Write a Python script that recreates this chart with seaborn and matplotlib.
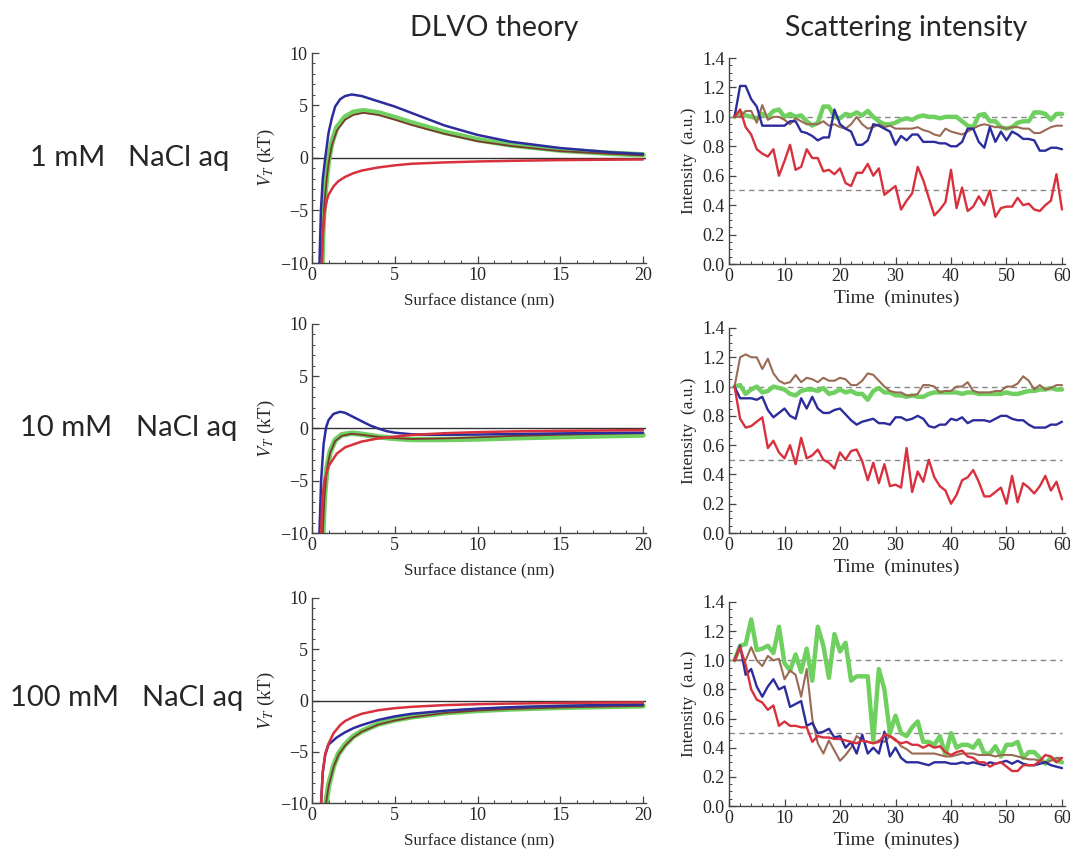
import numpy as np
import pandas as pd
import matplotlib
matplotlib.use('Agg')
import matplotlib.pyplot as plt
import seaborn as sns
from matplotlib.ticker import MultipleLocator

# ---- DLVO theory curves (surface distance in nm, V_T in kT) ----
# 1 mM
d1_blue_x = [0.45, 0.54, 0.65, 0.8, 1.0, 1.2, 1.4, 1.7, 2.0, 2.4, 3.0, 4.0, 5.0, 6.0, 8.0, 10.0, 12.0, 15.0, 18.0, 20.0]
d1_blue = [-10, -5, -2, 0, 2.4, 3.8, 4.9, 5.6, 5.9, 6.05, 5.9, 5.4, 4.9, 4.3, 3.1, 2.2, 1.55, 0.95, 0.55, 0.38]
d1_green_x = [0.6, 0.65, 0.75, 0.9, 1.0, 1.2, 1.5, 2.0, 2.5, 3.1, 4.0, 5.0, 6.0, 8.0, 10.0, 12.0, 15.0, 18.0, 20.0]
d1_green = [-10, -7, -4, -1.5, -0.2, 1.5, 2.9, 3.9, 4.35, 4.5, 4.3, 3.85, 3.35, 2.45, 1.75, 1.25, 0.75, 0.45, 0.3]
d1_brown_x = [0.6, 0.65, 0.75, 0.9, 1.0, 1.2, 1.5, 2.0, 2.5, 3.1, 4.0, 5.0, 6.0, 8.0, 10.0, 12.0, 15.0, 18.0, 20.0]
d1_brown = [-10, -7.3, -4.3, -1.8, -0.5, 1.2, 2.6, 3.65, 4.1, 4.3, 4.1, 3.65, 3.15, 2.3, 1.6, 1.15, 0.65, 0.4, 0.25]
d1_red_x = [0.6, 0.65, 0.75, 0.9, 1.0, 1.3, 1.6, 2.0, 2.5, 3.0, 4.0, 5.0, 6.0, 8.0, 10.0, 12.0, 15.0, 18.0, 20.0]
d1_red = [-10, -7.5, -5.3, -4.0, -3.5, -2.7, -2.2, -1.8, -1.45, -1.2, -0.9, -0.7, -0.55, -0.42, -0.33, -0.27, -0.2, -0.16, -0.14]

# 10 mM
d2_blue_x = [0.45, 0.55, 0.7, 0.85, 1.0, 1.3, 1.7, 2.0, 2.5, 3.0, 3.5, 4.0, 4.5, 5.0, 6.0, 7.0, 8.0, 10.0, 12.0, 15.0, 18.0, 20.0]
d2_blue = [-10, -5, -1.5, 0.1, 0.8, 1.4, 1.6, 1.5, 1.1, 0.7, 0.3, 0.0, -0.25, -0.4, -0.55, -0.6, -0.6, -0.58, -0.53, -0.47, -0.42, -0.4]
d2_green_x = [0.65, 0.75, 0.9, 1.1, 1.4, 1.8, 2.4, 3.0, 4.0, 5.0, 6.0, 8.0, 10.0, 12.0, 15.0, 18.0, 20.0]
d2_green = [-10, -6.5, -3.8, -2.2, -1.1, -0.6, -0.45, -0.55, -0.8, -0.95, -1.05, -1.05, -1.0, -0.9, -0.78, -0.68, -0.62]
d2_brown_x = [0.65, 0.75, 0.9, 1.1, 1.4, 1.8, 2.4, 3.0, 4.0, 5.0, 6.0, 8.0, 10.0, 12.0, 15.0, 18.0, 20.0]
d2_brown = [-10, -6.6, -3.9, -2.3, -1.2, -0.7, -0.5, -0.6, -0.8, -0.92, -1.0, -0.95, -0.85, -0.72, -0.6, -0.5, -0.45]
d2_red_x = [0.55, 0.62, 0.75, 1.0, 1.5, 2.0, 3.0, 4.0, 5.0, 6.0, 8.0, 10.0, 12.0, 15.0, 18.0, 20.0]
d2_red = [-10, -7, -5.0, -3.6, -2.4, -1.8, -1.25, -0.95, -0.78, -0.62, -0.45, -0.35, -0.28, -0.22, -0.18, -0.15]

# 100 mM
d3_blue_x = [0.55, 0.65, 0.8, 1.0, 1.5, 2.0, 2.5, 3.0, 4.0, 5.0, 6.0, 8.0, 10.0, 12.0, 15.0, 18.0, 20.0]
d3_blue = [-10, -7, -5.3, -4.3, -3.6, -3.1, -2.7, -2.4, -1.9, -1.55, -1.3, -1.0, -0.8, -0.65, -0.52, -0.43, -0.4]
d3_green_x = [0.85, 1.0, 1.3, 1.6, 2.0, 2.5, 3.0, 4.0, 5.0, 6.0, 8.0, 10.0, 12.0, 15.0, 18.0, 20.0]
d3_green = [-10, -8.3, -6.4, -5.2, -4.3, -3.5, -3.0, -2.3, -1.9, -1.6, -1.2, -0.97, -0.82, -0.67, -0.57, -0.52]
d3_brown_x = [0.85, 1.0, 1.3, 1.6, 2.0, 2.5, 3.0, 4.0, 5.0, 6.0, 8.0, 10.0, 12.0, 15.0, 18.0, 20.0]
d3_brown = [-10, -8.4, -6.5, -5.3, -4.4, -3.6, -3.05, -2.35, -1.95, -1.65, -1.22, -0.98, -0.83, -0.68, -0.58, -0.53]
d3_red_x = [0.55, 0.65, 0.8, 1.0, 1.3, 1.7, 2.0, 2.5, 3.0, 4.0, 5.0, 6.0, 8.0, 10.0, 12.0, 15.0, 18.0, 20.0]
d3_red = [-10, -7, -5.2, -4.2, -3.2, -2.4, -2.0, -1.6, -1.3, -0.95, -0.75, -0.62, -0.45, -0.36, -0.3, -0.24, -0.2, -0.18]

# ---- Scattering intensity (a.u.) vs time (minutes) ----
minutes = list(range(1, 61))

s1_red = [1.00, 1.05, 0.93, 0.88, 0.78, 0.75, 0.73, 0.78, 0.60, 0.70,
          0.81, 0.64, 0.66, 0.78, 0.72, 0.72, 0.63, 0.64, 0.61, 0.65,
          0.55, 0.53, 0.62, 0.62, 0.68, 0.60, 0.65, 0.47, 0.50, 0.53,
          0.37, 0.43, 0.48, 0.66, 0.57, 0.45, 0.33, 0.37, 0.42, 0.64,
          0.38, 0.52, 0.36, 0.39, 0.46, 0.40, 0.50, 0.32, 0.38, 0.39,
          0.39, 0.45, 0.40, 0.41, 0.37, 0.36, 0.40, 0.43, 0.61, 0.37]
s1_blue = [1.00, 1.21, 1.21, 1.12, 1.07, 0.94, 0.94, 0.94, 0.94, 0.94,
           0.97, 0.97, 0.90, 0.89, 0.87, 0.84, 0.86, 0.86, 1.05, 0.95,
           0.92, 0.90, 0.81, 0.81, 0.84, 0.95, 0.94, 0.92, 0.90, 0.81,
           0.87, 0.84, 0.88, 0.88, 0.83, 0.83, 0.83, 0.82, 0.82, 0.80,
           0.80, 0.83, 0.92, 0.92, 0.83, 0.79, 0.93, 0.83, 0.90, 0.84,
           0.90, 0.88, 0.85, 0.85, 0.84, 0.77, 0.77, 0.79, 0.79, 0.78]
s1_green = [1.00, 1.03, 1.01, 1.00, 0.99, 1.02, 1.00, 1.04, 1.05, 1.00,
            1.02, 1.00, 1.01, 0.97, 0.94, 0.96, 1.07, 1.07, 1.00, 0.99,
            1.02, 1.01, 1.03, 1.01, 1.04, 1.00, 0.97, 0.95, 0.95, 0.96,
            0.98, 0.99, 0.98, 1.00, 1.01, 1.00, 1.00, 0.99, 1.00, 1.00,
            1.00, 0.97, 0.94, 0.93, 1.01, 1.02, 0.97, 0.97, 0.93, 0.92,
            0.93, 0.96, 0.97, 0.97, 1.03, 1.03, 1.02, 0.98, 1.02, 1.02]
s1_brown = [1.00, 1.00, 1.04, 1.04, 0.96, 1.08, 0.98, 1.00, 1.00, 0.98,
            0.95, 0.99, 0.97, 0.95, 0.95, 0.95, 0.97, 0.94, 0.95, 0.93,
            0.92, 0.95, 1.00, 0.95, 0.92, 0.93, 0.95, 0.93, 0.94, 0.92,
            0.92, 0.92, 0.92, 0.93, 0.91, 0.90, 0.88, 0.87, 0.92, 0.90,
            0.89, 0.88, 0.90, 0.92, 0.94, 0.95, 0.94, 0.93, 0.93, 0.92,
            0.93, 0.93, 0.92, 0.92, 0.89, 0.89, 0.91, 0.93, 0.94, 0.94]

s2_red = [1.00, 0.78, 0.72, 0.73, 0.76, 0.79, 0.58, 0.63, 0.55, 0.51,
          0.60, 0.47, 0.65, 0.51, 0.53, 0.57, 0.50, 0.48, 0.44, 0.55,
          0.50, 0.56, 0.57, 0.49, 0.36, 0.48, 0.34, 0.47, 0.32, 0.33,
          0.31, 0.58, 0.28, 0.42, 0.35, 0.50, 0.38, 0.32, 0.29, 0.20,
          0.26, 0.36, 0.38, 0.43, 0.35, 0.25, 0.25, 0.28, 0.31, 0.20,
          0.39, 0.21, 0.34, 0.31, 0.27, 0.32, 0.39, 0.29, 0.35, 0.23]
s2_blue = [1.00, 0.92, 0.92, 0.92, 0.91, 0.93, 0.84, 0.79, 0.82, 0.85,
           0.80, 0.78, 0.92, 0.85, 0.93, 0.85, 0.82, 0.82, 0.84, 0.85,
           0.81, 0.77, 0.74, 0.76, 0.77, 0.78, 0.75, 0.75, 0.74, 0.79,
           0.79, 0.77, 0.78, 0.80, 0.78, 0.73, 0.72, 0.74, 0.74, 0.78,
           0.77, 0.79, 0.75, 0.77, 0.77, 0.77, 0.76, 0.78, 0.80, 0.80,
           0.78, 0.77, 0.77, 0.74, 0.72, 0.72, 0.72, 0.74, 0.74, 0.76]
s2_green = [1.00, 1.01, 0.95, 0.98, 1.00, 0.96, 0.97, 1.00, 0.99, 0.98,
            0.95, 0.94, 0.97, 0.98, 0.98, 0.97, 0.99, 0.95, 0.96, 0.98,
            0.96, 0.97, 0.95, 0.95, 0.91, 0.97, 0.99, 0.96, 0.96, 0.94,
            0.94, 0.93, 0.94, 0.93, 0.93, 0.95, 0.96, 0.96, 0.96, 0.96,
            0.96, 0.95, 0.96, 0.96, 0.95, 0.95, 0.95, 0.95, 0.95, 0.96,
            0.95, 0.95, 0.96, 0.97, 0.97, 0.98, 0.98, 0.99, 0.98, 0.98]
s2_brown = [1.00, 1.20, 1.22, 1.20, 1.20, 1.12, 1.19, 1.09, 1.04, 1.02,
            1.03, 1.08, 1.03, 1.06, 1.05, 1.03, 1.06, 1.04, 1.04, 1.06,
            1.05, 1.01, 1.01, 1.04, 1.09, 1.08, 1.04, 1.00, 0.97, 0.96,
            0.96, 0.94, 0.94, 0.95, 1.01, 1.01, 1.00, 0.96, 0.97, 0.97,
            1.00, 1.00, 1.03, 0.97, 0.96, 0.96, 0.96, 0.97, 0.97, 1.00,
            1.00, 1.02, 1.07, 1.04, 0.98, 1.01, 0.98, 0.99, 1.01, 1.01]

s3_red = [1.00, 1.09, 0.97, 0.80, 0.73, 0.71, 0.66, 0.69, 0.55, 0.58,
          0.55, 0.55, 0.54, 0.54, 0.44, 0.48, 0.47, 0.47, 0.46, 0.46,
          0.45, 0.44, 0.43, 0.45, 0.44, 0.43, 0.44, 0.49, 0.48, 0.45,
          0.43, 0.44, 0.42, 0.42, 0.40, 0.42, 0.40, 0.41, 0.37, 0.35,
          0.37, 0.38, 0.34, 0.33, 0.30, 0.30, 0.27, 0.29, 0.30, 0.27,
          0.24, 0.24, 0.28, 0.28, 0.28, 0.31, 0.35, 0.34, 0.30, 0.33]
s3_blue = [1.00, 1.10, 0.90, 0.94, 0.82, 0.75, 0.82, 0.87, 0.80, 0.82,
           0.68, 0.70, 0.72, 0.55, 0.57, 0.50, 0.51, 0.53, 0.47, 0.48,
           0.40, 0.44, 0.36, 0.49, 0.36, 0.40, 0.36, 0.51, 0.34, 0.40,
           0.33, 0.30, 0.30, 0.30, 0.29, 0.28, 0.30, 0.30, 0.30, 0.29,
           0.29, 0.30, 0.29, 0.30, 0.29, 0.28, 0.30, 0.29, 0.30, 0.31,
           0.29, 0.31, 0.29, 0.28, 0.28, 0.29, 0.30, 0.28, 0.27, 0.26]
s3_green = [1.00, 1.10, 1.11, 1.28, 1.07, 1.08, 1.10, 1.05, 1.23, 0.98,
            0.93, 1.04, 0.92, 1.08, 0.86, 1.23, 1.10, 0.88, 1.18, 1.06,
            1.12, 0.86, 0.89, 0.89, 0.89, 0.45, 0.94, 0.80, 0.50, 0.62,
            0.50, 0.48, 0.54, 0.58, 0.44, 0.44, 0.42, 0.48, 0.35, 0.50,
            0.40, 0.42, 0.42, 0.40, 0.45, 0.36, 0.36, 0.41, 0.34, 0.42,
            0.42, 0.44, 0.33, 0.37, 0.37, 0.33, 0.29, 0.33, 0.31, 0.30]
s3_brown = [1.00, 1.00, 1.00, 1.09, 1.00, 0.96, 1.03, 1.00, 1.01, 0.87,
            0.93, 0.90, 0.75, 0.94, 0.60, 0.43, 0.36, 0.45, 0.38, 0.31,
            0.35, 0.40, 0.48, 0.45, 0.44, 0.43, 0.45, 0.44, 0.48, 0.46,
            0.41, 0.39, 0.36, 0.36, 0.36, 0.36, 0.36, 0.35, 0.34, 0.34,
            0.35, 0.36, 0.36, 0.36, 0.35, 0.35, 0.35, 0.34, 0.35, 0.35,
            0.35, 0.34, 0.33, 0.32, 0.32, 0.31, 0.30, 0.31, 0.33, 0.33]

row_conc = ['1 mM', '10 mM', '100 mM']

BLUE = '#2c2c9c'
RED = '#d8303c'
BROWN = '#9a6a55'
DBROWN = '#7a3a30'
GREEN = '#6fd060'

sns.set_style('ticks')
plt.rcParams['font.family'] = ['Liberation Serif', 'DejaVu Serif']
plt.rcParams['mathtext.fontset'] = 'stix'

fig = plt.figure(figsize=(10.7, 8.55), dpi=100)

W, H = 1070, 855
def axes_px(left, top, width, height):
    return fig.add_axes([left / W, 1 - (top + height) / H, width / W, height / H])

def style_axes(ax):
    sns.despine(ax=ax)
    for s in ['left', 'bottom']:
        ax.spines[s].set_color('#444444')
        ax.spines[s].set_linewidth(1.0)
    ax.tick_params(which='major', direction='in', length=5, width=0.9, color='#444444',
                   labelsize=13, pad=3)
    ax.tick_params(which='minor', direction='in', length=2.5, width=0.7, color='#444444')

dlvo_rows = [
    [(d1_green_x, d1_green), (d1_brown_x, d1_brown), (d1_blue_x, d1_blue), (d1_red_x, d1_red)],
    [(d2_green_x, d2_green), (d2_brown_x, d2_brown), (d2_blue_x, d2_blue), (d2_red_x, d2_red)],
    [(d3_green_x, d3_green), (d3_brown_x, d3_brown), (d3_blue_x, d3_blue), (d3_red_x, d3_red)],
]
scat_rows = [
    [s1_green, s1_brown, s1_blue, s1_red],
    [s2_green, s2_brown, s2_blue, s2_red],
    [s3_green, s3_brown, s3_blue, s3_red],
]
dlvo_tops = [53, 324, 598]
dlvo_h = [210, 209, 205]
scat_tops = [58, 328, 602]
scat_h = [206, 205, 204]
row_y = [158, 428, 698]
conc_x = [30, 20, 10]
nacl_x = [128, 136, 142]

for i in range(3):
    # DLVO panel
    ax = axes_px(312, dlvo_tops[i], 331 * 20.2 / 20, dlvo_h[i])
    ax.axhline(0, color='#333333', lw=1.0, zorder=1)
    (gx, gy), (bx, by), (blx, bly), (rx, ry) = dlvo_rows[i]
    sns.lineplot(x=gx, y=gy, ax=ax, color=GREEN, lw=4, sort=False, estimator=None, zorder=2)
    sns.lineplot(x=bx, y=by, ax=ax, color=DBROWN, lw=1.3, sort=False, estimator=None, zorder=3)
    sns.lineplot(x=blx, y=bly, ax=ax, color=BLUE, lw=1.8, sort=False, estimator=None, zorder=4)
    sns.lineplot(x=rx, y=ry, ax=ax, color=RED, lw=1.8, sort=False, estimator=None, zorder=5)
    ax.set_xlim(0, 20.2)
    ax.set_ylim(-10, 10)
    ax.xaxis.set_major_locator(MultipleLocator(5))
    ax.xaxis.set_minor_locator(MultipleLocator(1))
    ax.yaxis.set_major_locator(MultipleLocator(5))
    ax.yaxis.set_minor_locator(MultipleLocator(1))
    style_axes(ax)
    ax.set_xlabel('Surface distance (nm)', fontsize=12.3, labelpad=6)
    ax.set_ylabel(r'$V_T$ (kT)', fontsize=13.5, labelpad=2)

    # scattering panel
    ax2 = axes_px(729, scat_tops[i], 333 * 60.5 / 60, scat_h[i])
    ax2.axhline(1.0, xmax=60 / 60.5, color='#888888', lw=1, ls=(0, (4, 3)), zorder=1)
    ax2.axhline(0.5, xmax=60 / 60.5, color='#888888', lw=1, ls=(0, (4, 3)), zorder=1)
    g, br, bl, r = scat_rows[i]
    sns.lineplot(x=minutes, y=g, ax=ax2, color=GREEN, lw=3.2, sort=False, estimator=None, zorder=2)
    sns.lineplot(x=minutes, y=br, ax=ax2, color=BROWN, lw=1.5, sort=False, estimator=None, zorder=3)
    sns.lineplot(x=minutes, y=bl, ax=ax2, color=BLUE, lw=1.7, sort=False, estimator=None, zorder=4)
    sns.lineplot(x=minutes, y=r, ax=ax2, color=RED, lw=1.7, sort=False, estimator=None, zorder=5)
    ax2.set_xlim(0, 60.5)
    ax2.set_ylim(0, 1.4)
    ax2.xaxis.set_major_locator(MultipleLocator(10))
    ax2.xaxis.set_minor_locator(MultipleLocator(2))
    ax2.yaxis.set_major_locator(MultipleLocator(0.2))
    ax2.yaxis.set_minor_locator(MultipleLocator(0.05))
    ax2.yaxis.set_major_formatter(matplotlib.ticker.FormatStrFormatter('%.1f'))
    style_axes(ax2)
    ax2.set_xlabel('Time  (minutes)', fontsize=14, labelpad=3)
    ax2.set_ylabel('Intensity  (a.u.)', fontsize=12.5, labelpad=4)

    # row labels
    fig.text(conc_x[i] / W, 1 - row_y[i] / H, row_conc[i], family=['Lato', 'DejaVu Sans'],
             fontsize=21, va='center', ha='left')
    fig.text(nacl_x[i] / W, 1 - row_y[i] / H, 'NaCl aq', family=['Lato', 'DejaVu Sans'],
             fontsize=21, va='center', ha='left')

fig.text(494 / W, 1 - 28 / H, 'DLVO theory', family=['Lato', 'DejaVu Sans'],
         fontsize=20.5, ha='center', va='center')
fig.text(906 / W, 1 - 28 / H, 'Scattering intensity', family=['Lato', 'DejaVu Sans'],
         fontsize=20.5, ha='center', va='center')

fig.savefig('out.png', dpi=100)
